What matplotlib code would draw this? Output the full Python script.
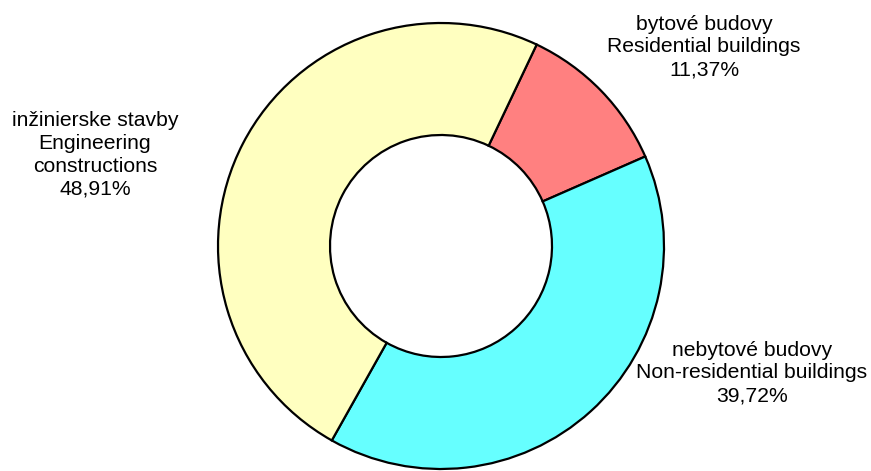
import matplotlib.pyplot as plt

# slice data (clockwise order starting from the residential slice)
labels_sk = ['bytové budovy', 'nebytové budovy', 'inžinierske stavby']
labels_en = ['Residential buildings', 'Non-residential buildings', 'Engineering\nconstructions']
shares = [11.37, 39.72, 48.91]
colors = ['#FF8080', '#66FFFF', '#FFFFC0']

plt.rcParams['font.family'] = ['Liberation Sans', 'DejaVu Sans']

fig = plt.figure(figsize=(8.71, 4.71), dpi=100)
ax = fig.add_axes([0, 0, 1, 1])

ax.pie(shares, colors=colors, startangle=64.6, counterclock=False,
       center=(441, 225), radius=223, frame=True,
       wedgeprops=dict(width=112, edgecolor='black', linewidth=1.6))
ax.set_xlim(0, 871)
ax.set_ylim(0, 471)
ax.set_aspect('equal')
ax.axis('off')

# label positions in pixels (x, y from top)
label_pos = [(704, 47), (752, 373), (95, 155)]
for sk, en, val, (x, y) in zip(labels_sk, labels_en, shares, label_pos):
    txt = sk + '\n' + en + '\n' + f'{val:.2f}'.replace('.', ',') + '%'
    ax.text(x, 471 - y, txt, ha='center', va='center', fontsize=15.2,
            linespacing=1.25, color='black')

fig.savefig('out.png', dpi=100)
